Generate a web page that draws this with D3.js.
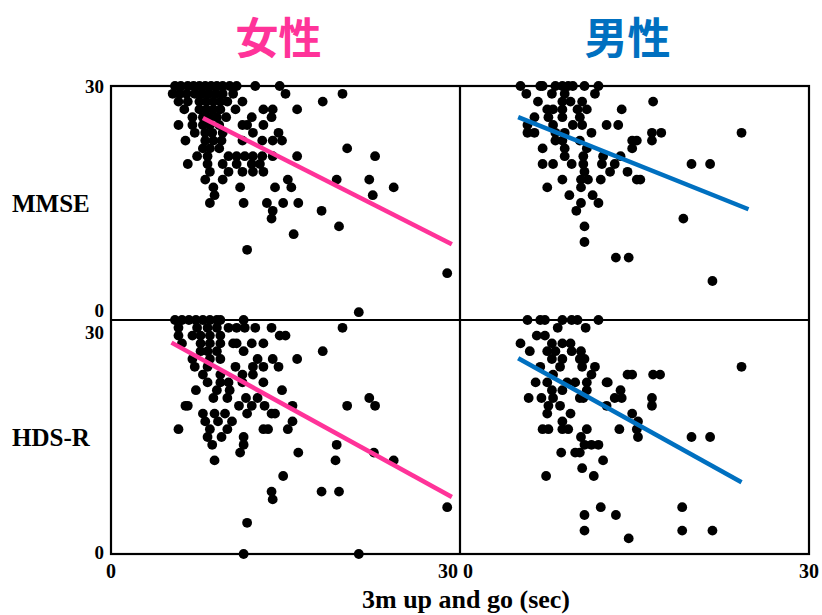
<!DOCTYPE html>
<html>
<head>
<meta charset="utf-8">
<script src="https://cdn.jsdelivr.net/npm/d3@7"></script>
<style>
  body { margin: 0; background: #fff; }
  svg { display: block; }
</style>
</head>
<body>
<svg id="chart" width="822" height="615"></svg>
<script>
// group titles and row labels
const groups = ["女性", "男性"]
const groupColors = ["#ff3399", "#0070c0"]
const scores = ["MMSE", "HDS-R"]
const tickLabels = ["0", "30"]
const xTitle = "3m up and go (sec)"

// [3m up and go (sec), score]
const femaleMMSE = [
  [5.5,30],[6.0,30],[6.6,30],[7.1,30],[7.6,30],[8.1,30],[8.6,30],[9.1,30],[9.6,30],[10.2,30],[10.8,30],[12.4,30],[14.5,30],
  [5.3,29],[5.9,29],[6.5,29],[7.2,29],[7.8,29],[8.4,29],[9.0,29],[9.6,29],[10.5,29],[15.0,29],[19.9,29],
  [5.8,28],[6.6,28],[7.6,28],[8.2,28],[8.8,28],[9.4,28],[10.0,28],[11.3,28],[18.2,28],
  [6.3,27],[7.6,27],[8.2,27],[8.8,27],[9.4,27],[10.7,27],[13.1,27],[13.9,27],[16.0,27],
  [7.0,26],[7.9,26],[8.5,26],[9.1,26],[9.9,26],[12.1,26],[13.8,26],
  [5.8,25],[7.0,25],[7.9,25],[8.5,25],[9.3,25],[11.3,25],[11.7,25],[13.1,25],
  [7.2,24],[8.1,24],[8.7,24],[9.6,24],[12.2,24],[14.4,24],
  [6.4,23],[8.1,23],[8.8,23],[9.5,23],[11.3,23],[13.0,23],[13.9,23],[14.7,23],
  [7.9,22],[8.5,22],[9.3,22],[20.3,22],
  [7.4,21],[8.3,21],[10.1,21],[10.8,21],[11.5,21],[12.2,21],[13.0,21],[13.9,21],[16.0,21],[22.7,21],
  [6.6,20],[8.3,20],[9.6,20],[10.8,20],[12.1,20],[12.8,20],
  [8.5,19],[10.1,19],[11.3,19],[12.2,19],[13.1,19],
  [8.1,18],[9.6,18],[15.2,18],[19.4,18],[22.2,18],
  [8.8,17],[11.1,17],[14.1,17],[15.5,17],[24.3,17],
  [8.9,16],[22.5,16],
  [8.5,15],[11.4,15],[13.4,15],[14.8,15],[16.1,15],
  [13.9,14],[18.1,14],[13.8,13],[19.6,12],[15.7,11],[11.7,9],[28.9,6],[21.3,1]
]
const maleMMSE = [
  [5.2,30],[6.9,30],[7.1,30],[8.2,30],[8.8,30],[9.3,30],[9.7,30],[10.7,30],[11.9,30],
  [5.7,29],[7.9,29],[9.0,29],[11.6,29],
  [6.7,28],[8.8,28],[9.5,28],[10.5,28],[16.6,28],
  [7.5,27],[8.0,27],[8.8,27],[10.1,27],[10.9,27],[13.9,27],
  [6.4,26],[7.6,26],[8.8,26],[10.3,26],
  [5.8,25],[8.0,25],[9.7,25],[10.5,25],[12.6,25],[13.6,25],
  [5.8,24],[6.4,24],[8.2,24],[9.0,24],[11.3,24],[16.5,24],[17.3,24],[24.2,24],
  [8.2,23],[8.8,23],[10.3,23],[14.8,23],[15.2,23],[16.5,23],
  [7.1,22],[9.0,22],[10.9,22],[14.8,22],
  [9.0,21],[10.6,21],[12.3,21],[13.8,21],
  [7.1,20],[8.0,20],[9.6,20],[10.6,20],[12.2,20],[13.3,20],[19.9,20],[21.5,20],
  [10.7,19],[12.9,19],[14.4,19],
  [8.8,18],[10.4,18],[11.0,18],[12.1,18],[15.2,18],[15.5,18],
  [7.5,17],[10.4,17],[9.4,16],[11.4,16],[10.4,15],[11.9,15],[10.0,14],
  [19.2,13],[10.7,12],[10.7,10],[13.4,8],[14.5,8],[21.7,5]
]
const femaleHDSR = [
  [5.5,30],[6.1,30],[6.7,30],[7.3,30],[7.9,30],[8.5,30],[9.1,30],[9.4,30],[11.4,30],
  [5.8,29],[7.4,29],[8.3,29],[9.1,29],[10.1,29],[10.8,29],[11.5,29],[12.4,29],[13.8,29],[19.9,29],
  [5.8,28],[7.0,28],[7.7,28],[8.5,28],[9.4,28],[14.5,28],[15.0,28],
  [6.1,27],[7.7,27],[8.5,27],[9.4,27],[10.5,27],[10.8,27],[12.1,27],[13.1,27],
  [7.7,26],[8.3,26],[9.1,26],[11.4,26],[18.2,26],
  [7.0,25],[8.5,25],[9.4,25],[12.6,25],[13.9,25],[16.0,25],
  [7.2,24],[8.3,24],[10.7,24],[12.2,24],[13.1,24],[14.4,24],
  [7.9,23],[9.4,23],[11.3,23],[12.2,23],
  [8.3,22],[9.4,22],[10.1,22],[11.3,22],[13.1,22],
  [7.3,21],[9.1,21],[10.2,21],[14.7,21],
  [8.8,20],[10.0,20],[11.6,20],[12.6,20],[22.2,20],
  [6.4,19],[6.6,19],[11.0,19],[12.1,19],[13.2,19],[15.6,19],[20.3,19],[22.7,19],
  [7.9,18],[8.9,18],[9.8,18],[11.7,18],[13.8,18],[14.1,18],
  [8.1,17],[9.2,17],[10.4,17],[15.6,17],
  [5.8,16],[8.5,16],[10.0,16],[13.1,16],[13.5,16],[15.2,16],
  [8.3,15],[9.5,15],[11.4,15],
  [8.7,14],[11.4,14],[19.4,14],
  [11.1,13],[16.1,13],[22.6,13],
  [8.9,12],[19.3,12],[24.3,12],
  [14.8,10],[13.8,8],[18.1,8],[19.6,8],[13.9,7],[28.9,6],[11.7,4],[11.4,0],[21.3,0]
]
const maleHDSR = [
  [5.8,30],[6.9,30],[7.3,30],[8.8,30],[9.6,30],[10.1,30],[11.9,30],
  [8.4,29],[10.8,29],[6.6,28],[7.3,28],
  [5.2,27],[7.9,27],[8.8,27],[9.5,27],
  [6.0,26],[7.5,26],[8.2,26],[9.6,26],[10.4,26],
  [7.9,25],[8.8,25],[10.3,25],[10.7,25],
  [6.9,24],[8.6,24],[10.5,24],[11.6,24],[24.2,24],
  [8.0,23],[11.3,23],[14.4,23],[14.8,23],[16.6,23],[17.2,23],
  [6.5,22],[7.5,22],[9.2,22],[9.9,22],[10.9,22],[12.6,22],[12.7,22],
  [7.9,21],[8.8,21],[10.9,21],[13.8,21],
  [5.9,20],[7.0,20],[8.0,20],[10.3,20],[10.6,20],[13.3,20],[13.9,20],[16.5,20],
  [7.6,19],[8.6,19],[12.6,19],[16.5,19],
  [7.5,18],[9.5,18],[14.8,18],
  [8.8,17],[15.3,17],
  [7.1,16],[7.6,16],[8.8,16],[9.3,16],[10.9,16],[13.7,16],[15.2,16],
  [10.4,15],[15.3,15],[19.9,15],[21.5,15],
  [10.7,14],[11.3,14],[11.9,14],
  [8.7,13],[9.9,13],[10.3,13],
  [12.3,12],[10.5,11],[7.4,10],[11.5,10],
  [12.1,6],[19.1,6],[10.7,5],[13.4,5],[10.7,3],[19.1,3],[21.7,3],[14.5,2]
]

// regression line end points [x, y]
const fitFemaleMMSE = [[7.9, 25.9], [29.3, 9.7]]
const fitMaleMMSE = [[5.0, 26.0], [24.8, 14.2]]
const fitFemaleHDSR = [[5.2, 27.1], [29.3, 7.3]]
const fitMaleHDSR = [[5.0, 25.1], [24.2, 9.2]]

const panels = [
  { col: 0, row: 0, pts: femaleMMSE, fit: fitFemaleMMSE },
  { col: 1, row: 0, pts: maleMMSE, fit: fitMaleMMSE },
  { col: 0, row: 1, pts: femaleHDSR, fit: fitFemaleHDSR },
  { col: 1, row: 1, pts: maleHDSR, fit: fitMaleHDSR }
]

const svg = d3.select("#chart")
const plotLeft = 111, plotMidX = 460, plotRight = 809
const plotTop = 86, plotMidY = 320, plotBottom = 554

const xScales = [
  d3.scaleLinear().domain([0, 30]).range([plotLeft, plotMidX]),
  d3.scaleLinear().domain([0, 30]).range([plotMidX, plotRight])
]
const yScales = [
  d3.scaleLinear().domain([0, 30]).range([plotMidY, plotTop]),
  d3.scaleLinear().domain([0, 30]).range([plotBottom, plotMidY])
]

// titles
groups.forEach((g, i) => {
  svg.append("text")
    .attr("x", (xScales[i](0) + xScales[i](30)) / 2 - 7)
    .attr("y", 54)
    .attr("text-anchor", "middle")
    .attr("font-family", "'Noto Sans CJK JP', sans-serif")
    .attr("font-weight", "bold")
    .attr("font-size", 43)
    .attr("fill", groupColors[i])
    .text(g)
})

// points and fit lines
panels.forEach(p => {
  const x = xScales[p.col], y = yScales[p.row]
  const g = svg.append("g")
  g.selectAll("circle")
    .data(p.pts)
    .join("circle")
      .attr("cx", d => x(d[0]))
      .attr("cy", d => y(d[1]))
      .attr("r", 4.9)
      .attr("fill", "#000")
  g.append("line")
    .attr("x1", x(p.fit[0][0])).attr("y1", y(p.fit[0][1]))
    .attr("x2", x(p.fit[1][0])).attr("y2", y(p.fit[1][1]))
    .attr("stroke", groupColors[p.col])
    .attr("stroke-width", 4.5)
})

// frame
const frame = svg.append("g")
  .attr("stroke", "#000")
  .attr("stroke-width", 2.2)
  .attr("fill", "none")
frame.append("rect")
  .attr("x", plotLeft).attr("y", plotTop)
  .attr("width", plotRight - plotLeft).attr("height", plotBottom - plotTop)
frame.append("line").attr("x1", plotMidX).attr("x2", plotMidX).attr("y1", plotTop).attr("y2", plotBottom)
frame.append("line").attr("x1", plotLeft).attr("x2", plotRight).attr("y1", plotMidY).attr("y2", plotMidY)

const serif = "'Liberation Serif', 'Times New Roman', serif"

// y tick labels
const yTicks = [
  { t: tickLabels[1], y: yScales[0](30) + 7 },
  { t: tickLabels[0], y: yScales[0](0) - 3 },
  { t: tickLabels[1], y: yScales[1](30) + 19 },
  { t: tickLabels[0], y: yScales[1](0) + 5 }
]
svg.selectAll(".ytick")
  .data(yTicks)
  .join("text")
    .attr("class", "ytick")
    .attr("x", 104)
    .attr("y", d => d.y)
    .attr("text-anchor", "end")
    .attr("font-family", serif)
    .attr("font-weight", "bold")
    .attr("font-size", 19)
    .text(d => d.t)

// x tick labels
const xTicks = [
  { t: tickLabels[0], x: xScales[0](0), a: "middle" },
  { t: tickLabels[1], x: xScales[0](30) - 2, a: "end" },
  { t: tickLabels[0], x: xScales[1](0) + 3, a: "start" },
  { t: tickLabels[1], x: xScales[1](30), a: "middle" }
]
svg.selectAll(".xtick")
  .data(xTicks)
  .join("text")
    .attr("class", "xtick")
    .attr("x", d => d.x)
    .attr("y", 578)
    .attr("text-anchor", d => d.a)
    .attr("font-family", serif)
    .attr("font-weight", "bold")
    .attr("font-size", 20)
    .text(d => d.t)

// row labels
scores.forEach((s, i) => {
  svg.append("text")
    .attr("x", 12)
    .attr("y", (yScales[i](0) + yScales[i](30)) / 2 + 9)
    .attr("font-family", serif)
    .attr("font-weight", "bold")
    .attr("font-size", 25)
    .text(s)
})

// x title
svg.append("text")
  .attr("x", 466)
  .attr("y", 608)
  .attr("text-anchor", "middle")
  .attr("font-family", serif)
  .attr("font-weight", "bold")
  .attr("font-size", 26)
  .text(xTitle)
</script>
</body>
</html>
